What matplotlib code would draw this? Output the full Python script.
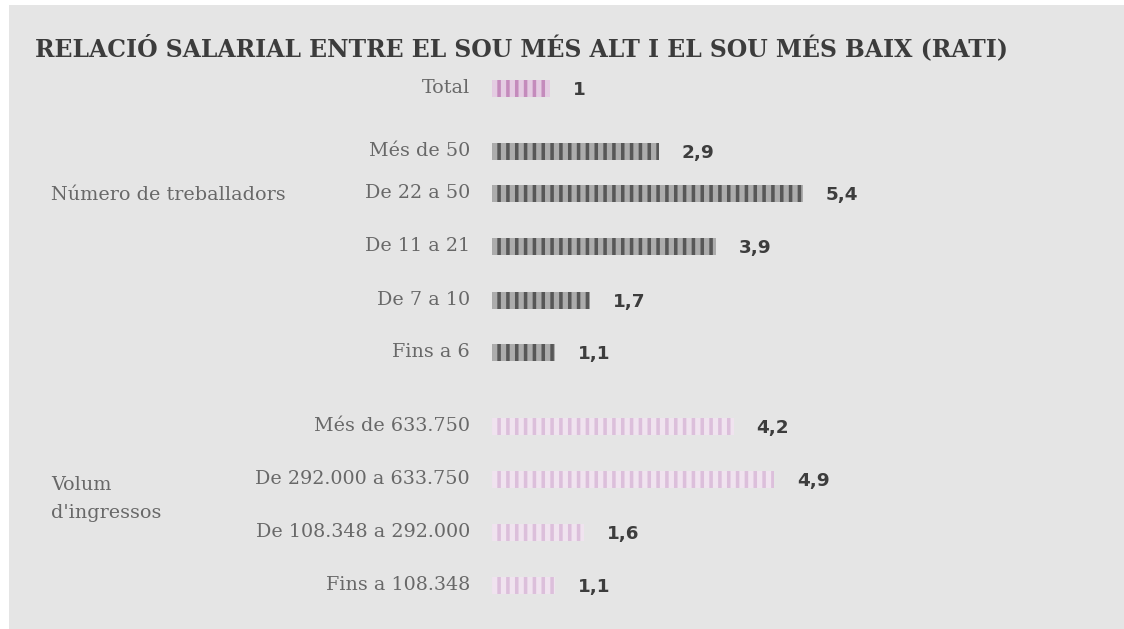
import matplotlib
matplotlib.use("Agg")
import matplotlib.pyplot as plt
from matplotlib.patches import Rectangle

# data
categories = ["Total",
              "Més de 50", "De 22 a 50", "De 11 a 21", "De 7 a 10", "Fins a 6",
              "Més de 633.750", "De 292.000 a 633.750", "De 108.348 a 292.000", "Fins a 108.348"]
values = [1.0, 2.9, 5.4, 3.9, 1.7, 1.1, 4.2, 4.9, 1.6, 1.1]
value_labels = ["1", "2,9", "5,4", "3,9", "1,7", "1,1", "4,2", "4,9", "1,6", "1,1"]
groups = ["total", "workers", "workers", "workers", "workers", "workers",
          "revenue", "revenue", "revenue", "revenue"]
group_titles = ["Número de treballadors", "Volum\nd'ingressos"]
title = "RELACIÓ SALARIAL ENTRE EL SOU MÉS ALT I EL SOU MÉS BAIX (RATI)"

# layout (pixel rows of the 629 px high picture)
row_y = [88, 151, 193, 246, 300, 352, 426, 479, 532, 585]
group_y = [195, 499]
colors = {"total": ("#c48bbc", "#e4cce2"),
          "workers": ("#575757", "#acacac"),
          "revenue": ("#dcbfdb", "#f0e3ef")}

W, H, DPI = 1124, 629, 106
PX = 57.5          # pixels per unit of ratio
X0 = 492           # pixel where bars start

plt.rcParams["hatch.linewidth"] = 2.4

fig = plt.figure(figsize=(W / DPI, H / DPI), dpi=DPI)
fig.patch.set_facecolor("white")

ax = fig.add_axes([0, 0, 1, 1])
ax.patch.set_visible(False)
ax.set_xlim(-X0 / PX, (W - X0) / PX)
ax.set_ylim(H, 0)
ax.axis("off")
ax.add_patch(Rectangle((9 / W, 0), 1, (H - 5) / H, transform=fig.transFigure,
                       facecolor="#e5e5e5", edgecolor="none", zorder=-10, clip_on=False))

for cat, v, lab, g, y in zip(categories, values, value_labels, groups, row_y):
    dark, light = colors[g]
    ax.barh(y, v, height=17, left=0, color=light, edgecolor=dark, hatch="||", linewidth=0)
    ax.text(-22 / PX, y, cat, ha="right", va="center", family="DejaVu Serif",
            fontsize=13, color="#686868")
    ax.text(v + 23 / PX, y + 2, lab, ha="left", va="center", family="DejaVu Sans",
            fontweight="bold", fontsize=12.5, color="#3d3d3d")

for gt, gy in zip(group_titles, group_y):
    ax.text((51 - X0) / PX, gy, gt, ha="left", va="center", family="DejaVu Serif",
            fontsize=13, color="#686868", linespacing=1.65)

ax.text((35 - X0) / PX, 48, title, ha="left", va="center", family="DejaVu Serif",
        fontweight="bold", fontsize=16, color="#3c3c3c")

fig.savefig("out.png", dpi=DPI)
